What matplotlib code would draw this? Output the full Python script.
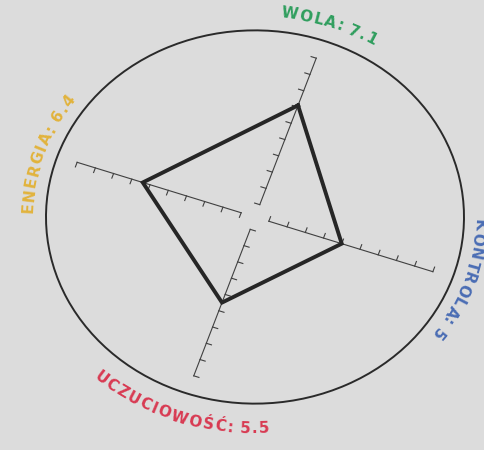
import numpy as np
import matplotlib
matplotlib.use("Agg")
import matplotlib.pyplot as plt
from matplotlib.patches import Circle
from matplotlib.transforms import Affine2D
from matplotlib.font_manager import FontProperties

# trait scores, scale runs 1..10
categories = ["WOLA", "KONTROLA", "UCZUCIOWOŚĆ", "ENERGIA"]
values = [7.1, 5, 5.5, 6.4]
score_labels = ["7.1", "5", "5.5", "6.4"]
label_colors = ["#2f9e5e", "#4a6db4", "#d83a52", "#e2b33c"]
scale_ticks = list(range(1, 11))

# direction of each axis before the whole chart gets turned
base_angles = [90, 0, -90, 180]
# how far out each label sits (circle = 1)
label_radius = {90: 1.10, 0: 1.07, -90: 1.135, 180: 1.085}

TURN = -19          # chart is turned clockwise
R_IN, R_OUT = 0.07, 0.90
TICK = 0.026
FS = 11
TRACK = 1.3

fig = plt.figure(figsize=(4.85, 4.5), dpi=100)
fig.patch.set_facecolor("#dcdcdc")
ax = fig.add_axes([0, 0, 1, 1])
ax.set_xlim(0, 485)
ax.set_ylim(450, 0)
ax.axis("off")

# unit chart coords -> picture pixels (squashed a bit vertically)
chart_to_px = Affine2D().rotate_deg(TURN).scale(209, -209 * 0.893).translate(255, 217)
tr = chart_to_px + ax.transData

ax.add_patch(Circle((0, 0), 1.0, fill=False, ec="#2a2a2a", lw=1.4, transform=tr))

def to_r(v):
    return R_IN + (v - scale_ticks[0]) / (scale_ticks[-1] - scale_ticks[0]) * (R_OUT - R_IN)

# axes with ticks
for a in base_angles:
    d = np.array([np.cos(np.radians(a)), np.sin(np.radians(a))])
    n = np.array([-d[1], d[0]])
    p0, p1 = d * R_IN, d * R_OUT
    ax.plot([p0[0], p1[0]], [p0[1], p1[1]], color="#404040", lw=0.8, transform=tr)
    for t in scale_ticks:
        p = d * to_r(t)
        q = p + n * TICK
        ax.plot([p[0], q[0]], [p[1], q[1]], color="#404040", lw=0.8, transform=tr)

# score polygon
pts = np.array([[to_r(v) * np.cos(np.radians(a)), to_r(v) * np.sin(np.radians(a))]
                for v, a in zip(values, base_angles)])
pts = np.vstack([pts, pts[:1]])
ax.plot(pts[:, 0], pts[:, 1], color="#262626", lw=2.8, solid_joinstyle="miter", transform=tr)

# curved labels, one glyph at a time
fig.canvas.draw()
renderer = fig.canvas.get_renderer()
prop = FontProperties(family="DejaVu Sans", weight="bold", size=FS)

def arc_text(text, ang, r, color, clockwise):
    widths = []
    for c in text:
        if c == " ":
            widths.append(0.3 * FS * 100 / 72 + TRACK)
        else:
            widths.append(renderer.get_text_width_height_descent(c, prop, ismath=False)[0] + TRACK)
    phis = np.radians(np.linspace(ang - 70, ang + 70, 3001))
    arc = chart_to_px.transform(np.column_stack([r * np.cos(phis), r * np.sin(phis)]))
    s = np.concatenate([[0], np.cumsum(np.hypot(np.diff(arc[:, 0]), np.diff(arc[:, 1])))])
    s_mid = np.interp(np.radians(ang), phis, s)
    total = sum(widths)
    cum = 0
    for c, w in zip(text, widths):
        off = cum + w / 2 - total / 2
        si = s_mid - off if clockwise else s_mid + off
        phi = np.interp(si, s, phis)
        x = np.interp(phi, phis, arc[:, 0])
        y = np.interp(phi, phis, arc[:, 1])
        dphi = -0.002 if clockwise else 0.002
        x2 = np.interp(phi + dphi, phis, arc[:, 0])
        y2 = np.interp(phi + dphi, phis, arc[:, 1])
        rot = np.degrees(np.arctan2(-(y2 - y), x2 - x))
        ax.text(x, y, c, fontproperties=prop, color=color, rotation=rot,
                rotation_mode="anchor", ha="center", va="center")
        cum += w

for cat, sc, col, a in zip(categories, score_labels, label_colors, base_angles):
    arc_text(f"{cat}: {sc}", a, label_radius[a], col, clockwise=(a != -90))

fig.savefig("out.png", dpi=100, facecolor=fig.get_facecolor())
